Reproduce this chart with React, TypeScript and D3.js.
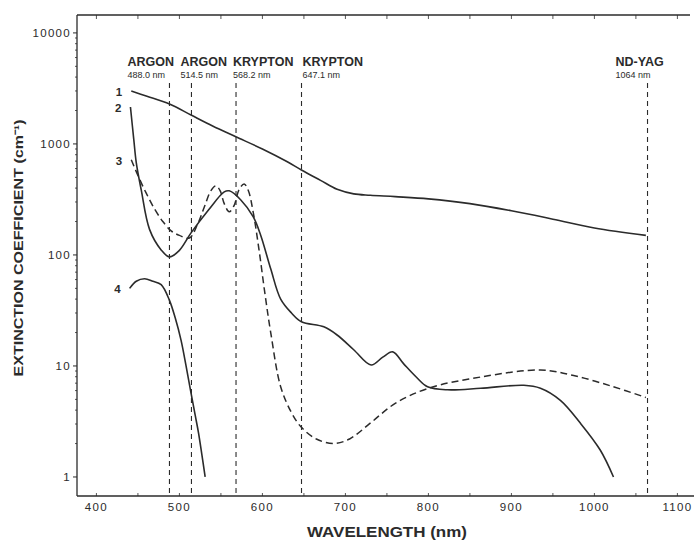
import * as d3 from "d3";

// curve 1 (solid, top)
const wl1 = [442, 460, 488, 514, 540, 568, 600, 630, 647, 670, 690, 710, 730, 760, 800, 850, 900, 950, 1000, 1062];
const ext1 = [3000, 2700, 2290, 1820, 1450, 1160, 900, 690, 583, 470, 390, 355, 345, 335, 320, 290, 250, 210, 175, 150];

// curve 2 (solid)
const wl2 = [441, 445, 448, 454, 464, 478, 488, 500, 514, 535, 554, 560, 574, 589, 598, 610, 622, 635, 647, 674, 690, 710, 731, 745, 757, 770, 785, 799, 823, 863, 915, 935, 959, 983, 1007, 1023];
const ext2 = [2150, 1100, 680, 385, 170, 111, 96, 110, 158, 254, 370, 378, 313, 220, 150, 75, 40, 30, 25, 22.5, 19, 14, 10.2, 12, 13.4, 10.5, 8, 6.5, 6.1, 6.3, 6.7, 6.3, 4.9, 3.06, 1.75, 1.0];

// curve 3 (dashed)
const wl3 = [442, 450, 460, 470, 480, 490, 500, 512, 522, 530, 538, 544, 549, 554, 560, 566, 572, 578, 583, 589, 596, 603, 610, 622, 635, 647, 665, 686, 705, 731, 760, 800, 863, 935, 975, 1020, 1062];
const ext3 = [720, 520, 360, 260, 200, 165, 150, 142, 190, 270, 380, 420, 380, 290, 245, 280, 390, 435, 380, 240, 110, 45, 20, 6.5, 3.8, 2.8, 2.2, 2.0, 2.2, 3.1, 4.6, 6.3, 7.95, 9.2, 8.2, 6.6, 5.2];

// curve 4 (solid, bottom left)
const wl4 = [440, 448, 458, 468, 478, 488, 495, 502, 508, 514, 519, 523, 527, 531];
const ext4 = [50, 58, 61, 58, 54, 39, 27, 17, 10, 5.7, 3.6, 2.5, 1.6, 1.0];

const laserNames = ["ARGON", "ARGON", "KRYPTON", "KRYPTON", "ND-YAG"];
const laserWavelengths = [488.0, 514.5, 568.2, 647.1, 1064];
const laserLabels = ["488.0 nm", "514.5 nm", "568.2 nm", "647.1 nm", "1064 nm"];
const laserDx = [-42, -11, -3, 1, -32];

const xTicks = [400, 500, 600, 700, 800, 900, 1000, 1100];
const yTicks = [1, 10, 100, 1000, 10000];

const W = 694;
const H = 540;
const left = 77;
const bottom = 496;
const top = 15;
const ink = "#2b2b2b";

export default function App() {
  const x = d3.scaleLinear().domain([376.6, 1120]).range([left, W]);
  const y = d3.scaleLog().domain([0.674, 14500]).range([bottom, top]);

  const line = d3
    .line<[number, number]>()
    .x((d) => x(d[0]))
    .y((d) => y(d[1]))
    .curve(d3.curveCatmullRom.alpha(0.5));

  const pts = (w: number[], e: number[]) => w.map((v, i) => [v, e[i]] as [number, number]);

  const minorY: number[] = [];
  for (let p = 0; p < 4; p++) for (let k = 2; k < 10; k++) minorY.push(k * Math.pow(10, p));
  const minorX = d3.range(400, 1101, 50);

  const font = "'Liberation Sans', Arial, sans-serif";

  return (
    <svg width={W} height={H} style={{ position: "absolute", left: 0, top: 0, background: "#fff" }}>
      <rect width={W} height={H} fill="#fff" />

      {/* frame */}
      <line x1={left} x2={left} y1={top} y2={bottom} stroke={ink} strokeWidth={1.3} />
      <line x1={left} x2={W} y1={bottom} y2={bottom} stroke={ink} strokeWidth={1.5} />
      <line x1={left} x2={W - 4} y1={top} y2={top} stroke={ink} strokeWidth={1.3} />

      {/* y ticks */}
      {minorY.map((v) => (
        <line key={"my" + v} x1={left - 2} x2={left} y1={y(v)} y2={y(v)} stroke={ink} strokeWidth={0.8} />
      ))}
      {yTicks.map((v) => (
        <g key={"y" + v}>
          <line x1={left - 4} x2={left} y1={y(v)} y2={y(v)} stroke={ink} strokeWidth={1} />
          <text x={left - 6} y={y(v) + 4} textAnchor="end" fontFamily={font} fontSize={11.5} letterSpacing={1.3} fill={ink}>
            {v}
          </text>
        </g>
      ))}

      {/* x ticks */}
      {minorX.map((v) => (
        <g key={"mx" + v}>
          <line x1={x(v)} x2={x(v)} y1={bottom} y2={bottom - 3} stroke={ink} strokeWidth={0.8} />
          <line x1={x(v)} x2={x(v)} y1={top} y2={top + 4} stroke={ink} strokeWidth={0.8} />
        </g>
      ))}
      {xTicks.map((v) => (
        <text key={"x" + v} x={x(v)} y={bottom + 15} textAnchor="middle" fontFamily={font} fontSize={11.5} letterSpacing={1.3} fill={ink}>
          {v}
        </text>
      ))}

      {/* axis titles */}
      <text
        transform={`translate(23,248) rotate(-90)`}
        textAnchor="middle"
        fontFamily={font}
        fontSize={13}
        fontWeight="bold"
        textLength={257}
        lengthAdjust="spacingAndGlyphs"
        fill={ink}
      >
        EXTINCTION COEFFICIENT (cm⁻¹)
      </text>
      <text
        x={387}
        y={537}
        textAnchor="middle"
        fontFamily={font}
        fontSize={14}
        fontWeight="bold"
        textLength={160}
        lengthAdjust="spacingAndGlyphs"
        fill={ink}
      >
        WAVELENGTH (nm)
      </text>

      {/* laser lines */}
      {laserWavelengths.map((w, i) => (
        <g key={"l" + i}>
          <line x1={x(w)} x2={x(w)} y1={83} y2={bottom} stroke={ink} strokeWidth={1.1} strokeDasharray="5,4" />
          <text x={x(w) + laserDx[i]} y={66} fontFamily={font} fontSize={12.5} fontWeight="bold" fill={ink}>
            {laserNames[i]}
          </text>
          <text x={x(w) + laserDx[i]} y={78} fontFamily={font} fontSize={9} fill={ink}>
            {laserLabels[i]}
          </text>
        </g>
      ))}

      {/* curves */}
      <path d={line(pts(wl1, ext1)) || ""} fill="none" stroke={ink} strokeWidth={1.6} />
      <path d={line(pts(wl2, ext2)) || ""} fill="none" stroke={ink} strokeWidth={1.6} />
      <path d={line(pts(wl3, ext3)) || ""} fill="none" stroke={ink} strokeWidth={1.5} strokeDasharray="7,4" />
      <path d={line(pts(wl4, ext4)) || ""} fill="none" stroke={ink} strokeWidth={1.6} />

      {/* curve numbers */}
      {["1", "2", "3", "4"].map((s, i) => {
        const w = [wl1[0], wl2[0], wl3[0], wl4[0]][i];
        const v = [ext1[0], ext2[0], ext3[0], ext4[0]][i];
        return (
          <text key={"n" + s} x={x(w) - 9} y={y(v) + 5} textAnchor="end" fontFamily={font} fontSize={11.5} fontWeight="bold" fill={ink}>
            {s}
          </text>
        );
      })}
    </svg>
  );
}
